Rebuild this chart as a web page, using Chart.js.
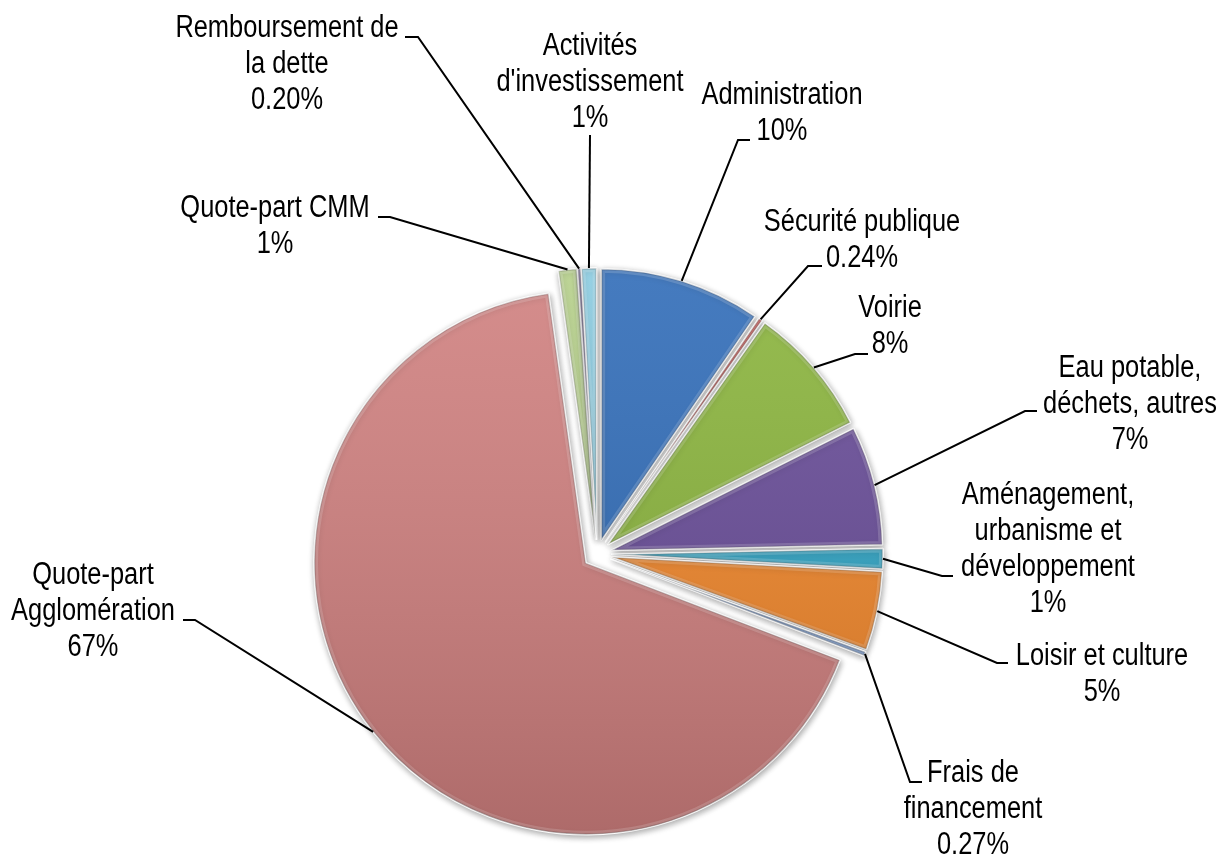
<!DOCTYPE html>
<html>
<head>
<meta charset="utf-8">
<script src="https://cdn.jsdelivr.net/npm/chart.js"></script>
<style>
  html, body { margin: 0; padding: 0; background: #fff; }
  #wrap { width: 1230px; height: 861px; }
</style>
</head>
<body>
<div id="wrap"><canvas id="pie"></canvas></div>
<script>
// slices, clockwise from 12 o'clock
const categories = [
    'Administration',
    'Sécurité publique',
    'Voirie',
    'Eau potable,\ndéchets, autres',
    'Aménagement,\nurbanisme et\ndéveloppement',
    'Loisir et culture',
    'Frais de\nfinancement',
    'Quote-part\nAgglomération',
    'Quote-part CMM',
    'Remboursement de\nla dette',
    'Activités\nd\'investissement',
];
const shares = [9.6, 0.24, 7.8, 7.1, 1.2, 4.7, 0.27, 67.2, 1.1, 0.2, 0.9];

const sliceColors = [
    '#306cb8', '#c0504d', '#8ab43c', '#684c98', '#30a4c4', '#f0862a',
    '#7a9cd0', '#cf7f7e', '#b5cf8a', '#8a7aaa', '#8ccde2',
];

// where each label sits: text centre / first line, then the leader's knee and end
const labelLayout = [
    { x: 782, y: 95, knee: [738, 140], end: [750, 140] },
    { x: 862, y: 222, knee: [808, 266], end: [822, 266] },
    { x: 890, y: 308, knee: [855, 354], end: [868, 354] },
    { x: 1130, y: 368, knee: [1025, 411], end: [1037, 411] },
    { x: 1048, y: 495, knee: [942, 576], end: [953, 576] },
    { x: 1102, y: 656, knee: [997, 663], end: [1008, 663] },
    { x: 973, y: 773, knee: [910, 782], end: [922, 782] },
    { x: 93, y: 575, knee: [195, 620], end: [183, 620] },
    { x: 275, y: 208, knee: [390, 217], end: [378, 217] },
    { x: 287, y: 28, knee: [418, 37], end: [405, 37] },
    { x: 590, y: 46, knee: [590, 135], end: [590, 135] },
];

// no narrow face installed: squeeze Liberation Sans sideways instead
const LABEL_FONT = "31px 'Liberation Sans', Arial, sans-serif";
const NARROW = 0.82;
const LINE_H = 36;
const EXPLODE = 14;

function pctText(v) {
    return v < 0.5 ? v.toFixed(2) + '%' : Math.round(v) + '%';
}

function arcPath(ctx, arc) {
    ctx.beginPath();
    ctx.moveTo(arc.x, arc.y);
    ctx.arc(arc.x, arc.y, arc.outerRadius, arc.startAngle, arc.endAngle);
    ctx.closePath();
}

/* pull every slice a little away from the centre */
const explode = {
    id: 'explode',
    afterDatasetUpdate(chart, args) {
        args.meta.data.forEach((arc) => {
            const mid = (arc.startAngle + arc.endAngle) / 2;
            arc.x += Math.cos(mid) * EXPLODE;
            arc.y += Math.sin(mid) * EXPLODE;
        });
    },
};

/* soft shadow + bevel-ish shading on the slices */
const bevel = {
    id: 'bevel',
    beforeDatasetsDraw(chart) {
        const ctx = chart.ctx;
        ctx.save();
        ctx.shadowColor = 'rgba(0,0,0,0.35)';
        ctx.shadowBlur = 6;
        ctx.shadowOffsetX = 1;
        ctx.shadowOffsetY = 2;
    },
    afterDatasetsDraw(chart) {
        const ctx = chart.ctx;
        ctx.restore();
        chart.getDatasetMeta(0).data.forEach((arc) => {
            ctx.save();
            arcPath(ctx, arc);
            ctx.clip();
            const g = ctx.createLinearGradient(0, arc.y - arc.outerRadius, 0, arc.y + arc.outerRadius);
            g.addColorStop(0, 'rgba(255,255,255,0.10)');
            g.addColorStop(1, 'rgba(0,0,0,0.16)');
            ctx.fillStyle = g;
            ctx.fill();
            ctx.lineWidth = 8;
            ctx.strokeStyle = 'rgba(255,255,255,0.16)';
            ctx.stroke();
            ctx.lineWidth = 3;
            ctx.strokeStyle = 'rgba(0,0,0,0.15)';
            ctx.stroke();
            ctx.restore();
        });
    },
};

/* outside labels with leader lines */
const leaderLabels = {
    id: 'leaderLabels',
    afterDatasetsDraw(chart) {
        const ctx = chart.ctx;
        ctx.save();
        ctx.font = LABEL_FONT;
        ctx.fillStyle = '#000000';
        ctx.strokeStyle = '#000000';
        ctx.lineWidth = 2;
        ctx.textAlign = 'center';
        ctx.textBaseline = 'middle';
        chart.getDatasetMeta(0).data.forEach((arc, i) => {
            const box = labelLayout[i];
            const mid = (arc.startAngle + arc.endAngle) / 2;
            const ex = arc.x + Math.cos(mid) * arc.outerRadius;
            const ey = arc.y + Math.sin(mid) * arc.outerRadius;
            ctx.beginPath();
            ctx.moveTo(ex, ey);
            ctx.lineTo(box.knee[0], box.knee[1]);
            ctx.lineTo(box.end[0], box.end[1]);
            ctx.stroke();
            const lines = categories[i].split('\n').concat(pctText(shares[i]));
            lines.forEach((t, k) => {
                ctx.save();
                ctx.translate(box.x, box.y + k * LINE_H);
                ctx.scale(NARROW, 1);
                ctx.fillText(t, 0, 0);
                ctx.restore();
            });
        });
        ctx.restore();
    },
};

new Chart(document.getElementById('pie'), {
    type: 'pie',
    data: {
        labels: categories,
        datasets: [
            {
                data: shares,
                backgroundColor: sliceColors,
                borderColor: 'rgba(255,255,255,0.95)',
                borderWidth: 1.5,
                radius: 272,
            },
        ],
    },
    options: {
        responsive: true,
        maintainAspectRatio: false,
        animation: false,
        events: [],
        layout: {
            padding: { left: 0, right: 36, top: 250, bottom: 3 },
        },
        plugins: {
            legend: { display: false },
            tooltip: { enabled: false },
        },
    },
    plugins: [explode, bevel, leaderLabels],
});
</script>
</body>
</html>
